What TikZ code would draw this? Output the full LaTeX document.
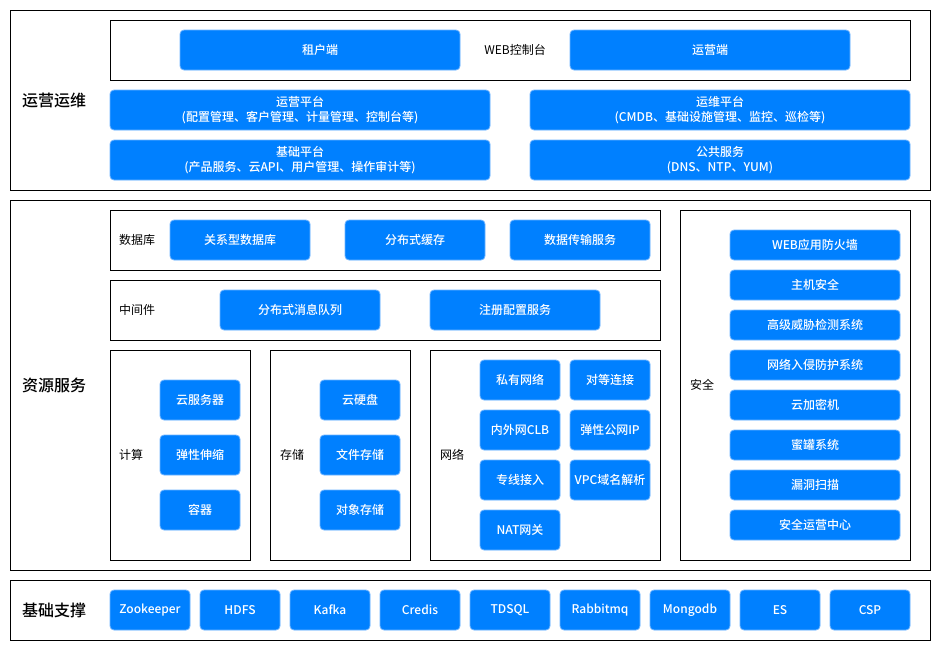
\documentclass[tikz,border=0pt]{standalone}
\usepackage{fontspec}
\setmainfont{Noto Sans CJK SC}
\newfontfamily\cjk{Noto Sans CJK SC}
\newfontfamily\cjkm{Noto Sans CJK SC}[UprightFont=* Medium]
\definecolor{btnblue}{RGB}{0,128,255}
\definecolor{btnedge}{RGB}{110,180,255}
\newcommand{\bx}[7]{\node[#1, minimum width={(#5-#3)*0.75pt}, minimum height={(#6-#4)*0.75pt}] (#2) at ({(#3+#5)/2},{(#4+#6)/2}) {#7};}
\tikzset{
  btn/.style={draw=btnedge, fill=btnblue, rounded corners=3pt, line width=0.6pt, text=white, inner sep=0pt, align=center, font=\cjkm\fontsize{9}{11}\selectfont},
  frame/.style={draw=black, line width=0.75pt, inner sep=0pt},
  lbl/.style={inner sep=0pt, font=\cjk\fontsize{9}{11}\selectfont},
  biglbl/.style={inner sep=0pt, font=\cjkm\fontsize{12}{14}\selectfont}
}
\begin{document}
\begin{tikzpicture}[x=0.75pt,y=-0.75pt]
\useasboundingbox[fill=white] (0,0) rectangle (941,651);
% outer frames
\bx{frame}{top}{10}{10}{930}{190}{}
\bx{frame}{mid}{10}{200}{930}{570}{}
\bx{frame}{bot}{10}{580}{930}{640}{}
\node[biglbl] (lyw) at (54,100) {运营运维};
\node[biglbl] (lzy) at (54,385) {资源服务};
\node[biglbl] (ljc) at (54,610) {基础支撑};
% top section
\bx{frame}{web}{110}{20}{910}{80}{}
\node[lbl] (lweb) at (515,50) {WEB控制台};
\bx{btn}{zhd}{180}{30}{460}{70}{租户端}
\bx{btn}{yyd}{570}{30}{850}{70}{运营端}
\bx{btn}{yypt}{110}{90}{490}{130}{运营平台\\(配置管理、客户管理、计量管理、控制台等)}
\bx{btn}{ywpt}{530}{90}{910}{130}{运维平台\\(CMDB、基础设施管理、监控、巡检等)}
\bx{btn}{jcpt}{110}{140}{490}{180}{基础平台\\(产品服务、云API、用户管理、操作审计等)}
\bx{btn}{ggfw}{530}{140}{910}{180}{公共服务\\(DNS、NTP、YUM)}
% database
\bx{frame}{db}{110}{210}{660}{270}{}
\node[lbl] (ldb) at (137,240) {数据库};
\bx{btn}{gxx}{170}{220}{310}{260}{关系型数据库}
\bx{btn}{fbs}{345}{220}{485}{260}{分布式缓存}
\bx{btn}{sjcs}{510}{220}{650}{260}{数据传输服务}
% middleware
\bx{frame}{mw}{110}{280}{660}{340}{}
\node[lbl] (lmw) at (137,310) {中间件};
\bx{btn}{xxdl}{220}{290}{380}{330}{分布式消息队列}
\bx{btn}{zcpz}{430}{290}{600}{330}{注册配置服务}
% compute
\bx{frame}{cp}{110}{350}{250}{560}{}
\node[lbl] (lcp) at (131,455) {计算};
\bx{btn}{yfwq}{160}{380}{240}{420}{云服务器}
\bx{btn}{txss}{160}{435}{240}{475}{弹性伸缩}
\bx{btn}{rq}{160}{490}{240}{530}{容器}
% storage
\bx{frame}{st}{270}{350}{410}{560}{}
\node[lbl] (lst) at (292,455) {存储};
\bx{btn}{yyp}{320}{380}{400}{420}{云硬盘}
\bx{btn}{wjcc}{320}{435}{400}{475}{文件存储}
\bx{btn}{dxcc}{320}{490}{400}{530}{对象存储}
% network
\bx{frame}{nw}{430}{350}{660}{560}{}
\node[lbl] (lnw) at (452,455) {网络};
\bx{btn}{syww}{480}{360}{560}{400}{私有网络}
\bx{btn}{ddlj}{570}{360}{650}{400}{对等连接}
\bx{btn}{clb}{480}{410}{560}{450}{内外网CLB}
\bx{btn}{eip}{570}{410}{650}{450}{弹性公网IP}
\bx{btn}{zxjr}{480}{460}{560}{500}{专线接入}
\bx{btn}{vpc}{570}{460}{650}{500}{VPC域名解析}
\bx{btn}{nat}{480}{510}{560}{550}{NAT网关}
% security
\bx{frame}{sec}{680}{210}{910}{560}{}
\node[lbl] (lsec) at (702,385) {安全};
\bx{btn}{s1}{730}{230}{900}{260}{WEB应用防火墙}
\bx{btn}{s2}{730}{270}{900}{300}{主机安全}
\bx{btn}{s3}{730}{310}{900}{340}{高级威胁检测系统}
\bx{btn}{s4}{730}{350}{900}{380}{网络入侵防护系统}
\bx{btn}{s5}{730}{390}{900}{420}{云加密机}
\bx{btn}{s6}{730}{430}{900}{460}{蜜罐系统}
\bx{btn}{s7}{730}{470}{900}{500}{漏洞扫描}
\bx{btn}{s8}{730}{510}{900}{540}{安全运营中心}
% bottom
\bx{btn}{b1}{110}{590}{190}{630}{Zookeeper}
\bx{btn}{b2}{200}{590}{280}{630}{HDFS}
\bx{btn}{b3}{290}{590}{370}{630}{Kafka}
\bx{btn}{b4}{380}{590}{460}{630}{Credis}
\bx{btn}{b5}{470}{590}{550}{630}{TDSQL}
\bx{btn}{b6}{560}{590}{640}{630}{Rabbitmq}
\bx{btn}{b7}{650}{590}{730}{630}{Mongodb}
\bx{btn}{b8}{740}{590}{820}{630}{ES}
\bx{btn}{b9}{830}{590}{910}{630}{CSP}
\end{tikzpicture}
\end{document}
